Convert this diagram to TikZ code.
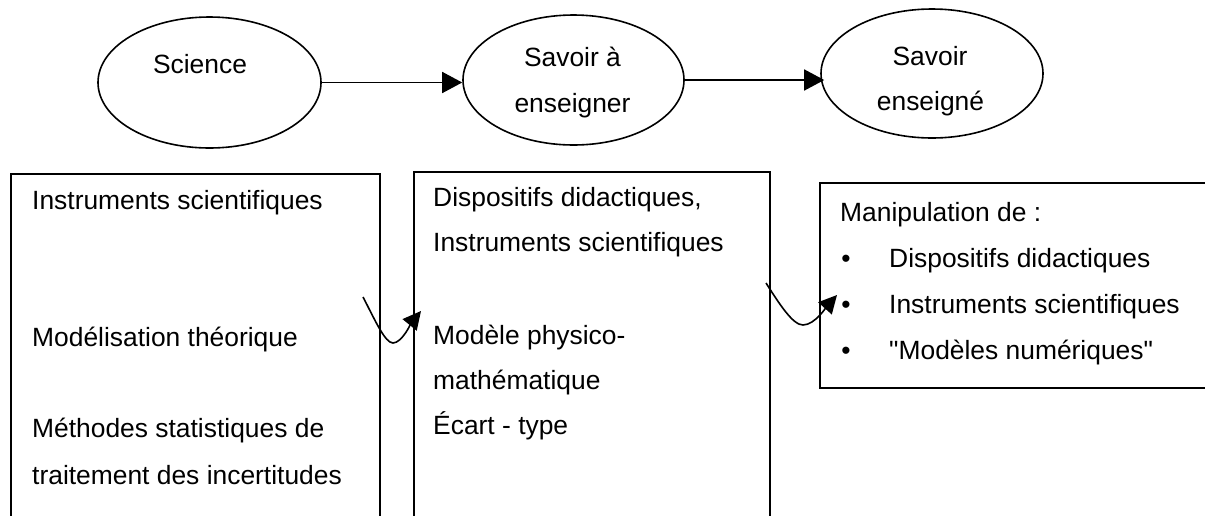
\documentclass[tikz,border=0pt]{standalone}
\usepackage{fontspec}
\setmainfont{Liberation Sans}
\usetikzlibrary{shapes.geometric, arrows.meta, positioning}

\tikzset{
    pole/.style={ellipse, draw, line width=1.6pt, inner sep=0pt},
    boxframe/.style={rectangle, draw, line width=1.6pt, inner sep=0pt, anchor=north west},
    poletext/.style={inner sep=0pt, anchor=base, font=\fontsize{26.4}{32}\selectfont},
    boxtext/.style={inner sep=0pt, anchor=base west, font=\fontsize{26.4}{32}\selectfont},
    flow/.style={line width=1.6pt, -{Triangle[length=20pt, width=21pt]}},
    twist/.style={line width=1.6pt, -{Triangle[length=18pt, width=18pt]}}
}

\begin{document}
\begin{tikzpicture}[x=1pt, y=-1pt]
    \useasboundingbox (0,0) rectangle (1205,515);
    \clip (0,0) rectangle (1205,515);

    % les trois pôles
    \node[pole, minimum width=223, minimum height=131] (science) at (209.5,82.5) {};
    \node[pole, minimum width=221, minimum height=130] (asavoir) at (573.5,80) {};
    \node[pole, minimum width=222, minimum height=129] (enseigne) at (932,73.5) {};
    \node[poletext] (sciencet) at (200,73) {Science};
    \node[poletext] (asavoira) at (572.5,66) {Savoir à};
    \node[poletext] (asavoirb) at (572.5,112) {enseigner};
    \node[poletext] (enseignea) at (930,65) {Savoir};
    \node[poletext] (enseigneb) at (930.5,110) {enseigné};

    \draw[flow] (science.east) -- (science.east -| asavoir.west);
    \draw[flow] (asavoir.east) -- ([xshift=4pt]asavoir.east -| enseigne.west);

    % cadres
    \node[boxframe, minimum width=369, minimum height=400] (sciencebox) at (10,173) {};
    \node[boxframe, minimum width=356, minimum height=400] (asavoirbox) at (413,171) {};
    \node[boxframe, minimum width=420, minimum height=205] (enseignebox) at (819,182) {};

    \node[boxtext] (instr) at (32,209) {Instruments scientifiques};
    \node[boxtext] (model) at (32,346) {Modélisation théorique};
    \node[boxtext] (stata) at (32,437) {Méthodes statistiques de};
    \node[boxtext] (statb) at (32,484) {traitement des incertitudes};

    \node[boxtext] (dispo) at (433,206) {Dispositifs didactiques,};
    \node[boxtext] (instrb) at (433,251) {Instruments scientifiques};
    \node[boxtext] (physa) at (433,344) {Modèle physico-};
    \node[boxtext] (physb) at (433,389) {mathématique};
    \node[boxtext] (ecart) at (433,434) {Écart - type};

    \node[boxtext] (manip) at (840,221) {Manipulation de :};
    \foreach \y/\name/\txt in {267/dispm/Dispositifs didactiques,
                               313/instrm/Instruments scientifiques,
                               359/numm/\textquotedbl Modèles numériques\textquotedbl} {
        \node[boxtext, anchor=base] (\name b) at (846,\y) {•};
        \node[boxtext] (\name) at (889,\y) {\txt};
    }

    % passages d'un cadre à l'autre
    \coordinate (twistastart) at (363,297);
    \coordinate (twistaend) at (421,311);
    \coordinate (twistbstart) at (766,283);
    \coordinate (twistbend) at (837,295);
    \draw[twist] (twistastart) .. controls (375,320) and (385,343) .. (393,343)
        .. controls (402,343) and (412,322) .. (twistaend);
    \draw[twist] (twistbstart) .. controls (780,305) and (793,325) .. (803,325)
        .. controls (815,325) and (828,305) .. (twistbend);
\end{tikzpicture}
\end{document}
